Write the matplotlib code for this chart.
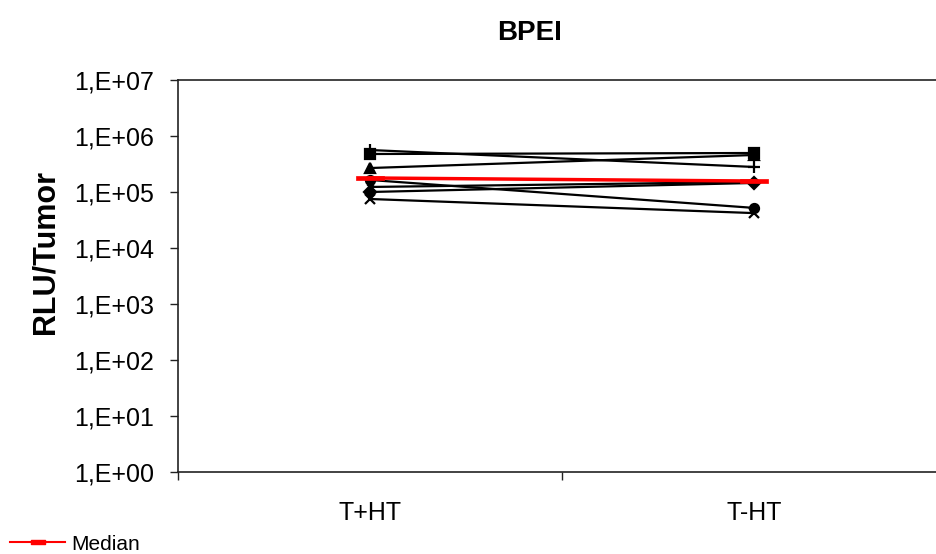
import matplotlib
matplotlib.use("Agg")
import matplotlib.pyplot as plt
from matplotlib.path import Path
from matplotlib.lines import Line2D

plt.rcParams['font.family'] = ['Liberation Sans', 'DejaVu Sans']

categories = ["T+HT", "T-HT"]
series_square = [4.77e5, 4.97e5]
series_plus = [5.62e5, 2.80e5]
series_triangle = [2.68e5, 4.58e5]
series_circle = [1.64e5, 5.2e4]
series_star = [1.23e5, 1.51e5]
series_diamond = [1.00e5, 1.45e5]
series_x = [7.5e4, 4.2e4]
median = [1.78e5, 1.57e5]
ytick_labels = ["1,E+00", "1,E+01", "1,E+02", "1,E+03", "1,E+04", "1,E+05", "1,E+06", "1,E+07"]

W, H = 936, 554
fig = plt.figure(figsize=(W / 100, H / 100), dpi=100)
ax = fig.add_axes([178 / W, 1 - 472 / H, 768 / W, 392 / H])

xs = [1, 2]
star_marker = Path([(-1, -1), (1, 1), (-1, 1), (1, -1), (0, -1.3), (0, 1.3)],
                   [Path.MOVETO, Path.LINETO, Path.MOVETO, Path.LINETO, Path.MOVETO, Path.LINETO])
rect_marker = Path([(-1, -0.17), (1, -0.17), (1, 0.17), (-1, 0.17), (-1, -0.17)],
                   [Path.MOVETO, Path.LINETO, Path.LINETO, Path.LINETO, Path.CLOSEPOLY])
legend_rect = Path([(-1, -0.35), (1, -0.35), (1, 0.35), (-1, 0.35), (-1, -0.35)],
                   [Path.MOVETO, Path.LINETO, Path.LINETO, Path.LINETO, Path.CLOSEPOLY])

styles = [
    (series_square, 's', 6.5),
    (series_plus, '+', 8),
    (series_triangle, '^', 7),
    (series_circle, 'o', 6.5),
    (series_star, star_marker, 6),
    (series_diamond, 'D', 6),
    (series_x, 'x', 6.5),
]
for vals, mk, ms in styles:
    ax.plot(xs, vals, color='black', lw=1.6, marker=mk, markersize=ms,
            markeredgewidth=1.6, markerfacecolor='black', markeredgecolor='black', zorder=2)

ax.plot(xs, median, color='#ff0000', lw=2.5, marker=rect_marker, markersize=20,
        markerfacecolor='#ff0000', markeredgecolor='#ff0000', markeredgewidth=0.5, zorder=3)

ax.set_yscale('log')
ax.set_ylim(1, 1e7)
ax.set_yticks([10 ** i for i in range(8)])
ax.set_yticklabels(ytick_labels)
ax.yaxis.set_minor_locator(matplotlib.ticker.NullLocator())
ax.set_xlim(0.5, 2.5)
ax.set_xticks(xs)
ax.set_xticklabels(categories)
ax.set_xticks([0.5, 1.5, 2.5], minor=True)
ax.tick_params(axis='x', which='major', length=0, pad=21, labelsize=18)
ax.tick_params(axis='x', which='minor', length=6, width=1, direction='out', color='#222222')
ax.tick_params(axis='y', which='major', length=6, width=1, direction='out', pad=11,
               labelsize=18, color='#222222')

for s in ['left', 'top', 'bottom']:
    ax.spines[s].set_color('#222222')
    ax.spines[s].set_linewidth(1.2)
ax.spines['right'].set_visible(False)

fig.text(530 / W, 1 - 33 / H, "BPEI", ha='center', va='center', fontsize=20, fontweight='bold')
fig.text(46 / W, 1 - 252 / H, "RLU/Tumor", ha='center', va='center', rotation=90,
         fontsize=22, fontweight='bold')

handle = Line2D([], [], color='#ff0000', lw=1.5, marker=legend_rect, markersize=9.5,
                markerfacecolor='#ff0000', markeredgecolor='#ff0000')
fig.legend([handle], ["Median"], loc='center left', bbox_to_anchor=(0 / W, 1 - 544 / H),
           frameon=False, fontsize=15, handlelength=2.6, handletextpad=0.3, borderpad=0)

fig.savefig("out.png", dpi=100)
